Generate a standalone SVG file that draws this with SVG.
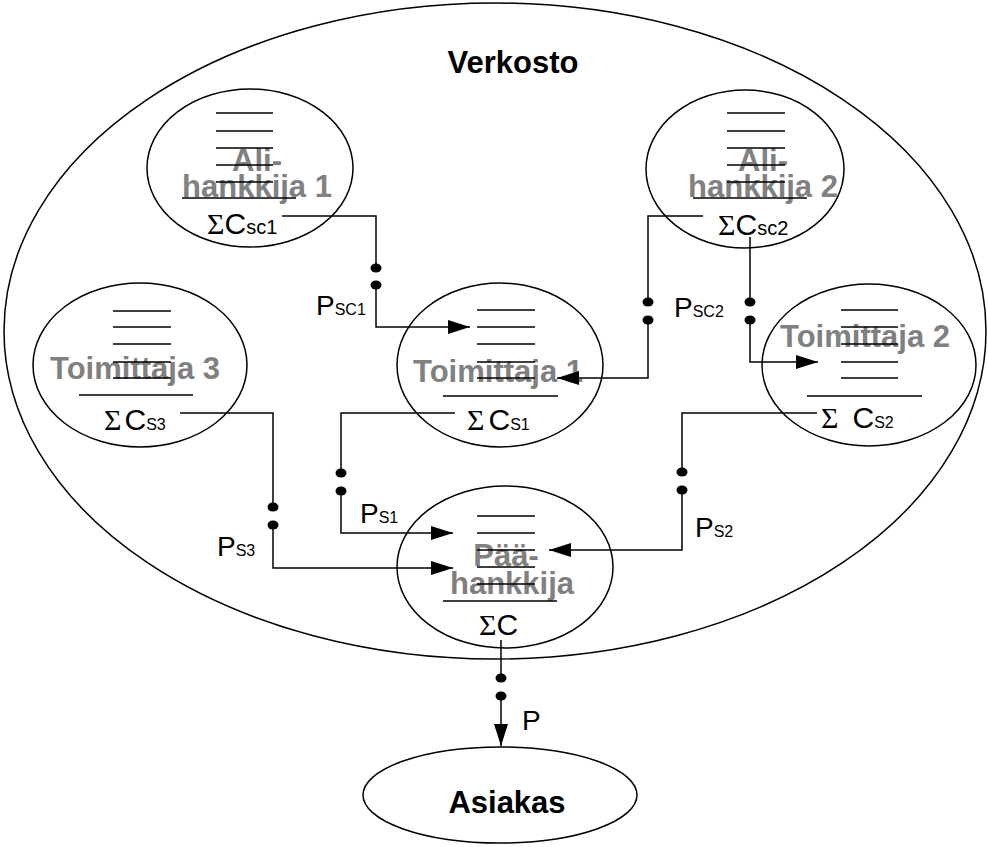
<svg xmlns="http://www.w3.org/2000/svg" width="988" height="847" viewBox="0 0 988 847">
<style>
.el{fill:none;stroke:#000;stroke-width:1.5}
.ln{stroke:#000;stroke-width:1.5;fill:none}
.gt{font-family:"Liberation Sans",Arial,sans-serif;font-weight:bold;font-size:31px;fill:#808080;text-anchor:middle}
.bt{font-family:"Liberation Sans",Arial,sans-serif;font-weight:bold;font-size:31px;fill:#000;text-anchor:middle}
.sg{font-family:"Liberation Serif","Times New Roman",serif;font-size:30px;fill:#000}
.c{font-family:"Liberation Sans",Arial,sans-serif;font-size:30px;fill:#000}
.sb{font-family:"Liberation Sans",Arial,sans-serif;font-size:16px;fill:#000}
.sb2{font-family:"Liberation Sans",Arial,sans-serif;font-size:20px;fill:#000}
.p{font-family:"Liberation Sans",Arial,sans-serif;font-size:28px;fill:#000}
.dot{fill:#000}
</style>
<defs>
<marker id="ah" markerUnits="userSpaceOnUse" markerWidth="22" markerHeight="14" refX="22" refY="7" orient="auto">
<path d="M0,0 L22,7 L0,14 z" fill="#000"/>
</marker>
</defs>
<rect width="988" height="847" fill="#fff"/>

<g id="verkosto">
<ellipse class="el" cx="495" cy="331" rx="491" ry="328"/>
<text class="bt" x="513" y="73">Verkosto</text>
</g>

<g id="alihankkija1">
<ellipse class="el" cx="250" cy="168" rx="103" ry="79"/>
<text class="gt" x="257" y="171">Ali-</text>
<text class="gt" x="257" y="197">hankkija 1</text>
<path class="ln" d="M216,113H273M216,131H273M216,148H273M216,165H273M216,182H273M182,198H296"/>
<text x="207" y="234"><tspan class="sg">Σ</tspan><tspan class="c">C</tspan><tspan class="sb2">sc1</tspan></text>
</g>

<g id="alihankkija2">
<ellipse class="el" cx="745" cy="169" rx="99" ry="79"/>
<text class="gt" x="763" y="171">Ali-</text>
<text class="gt" x="763" y="197">hankkija 2</text>
<path class="ln" d="M727,113H785M727,131H785M727,148H785M727,165H785M727,182H785M693,198H807"/>
<text x="718" y="235"><tspan class="sg">Σ</tspan><tspan class="c">C</tspan><tspan class="sb2">sc2</tspan></text>
</g>

<g id="toimittaja3">
<ellipse class="el" cx="140" cy="365" rx="107" ry="82"/>
<text class="gt" x="135" y="379">Toimittaja 3</text>
<path class="ln" d="M113,311H171M113,327H171M113,344H171M113,362H171M113,378H171M79,395H193"/>
<text x="104" y="430"><tspan class="sg">Σ</tspan><tspan class="c" dx="3">C</tspan><tspan class="sb">S3</tspan></text>
</g>

<g id="toimittaja1">
<ellipse class="el" cx="500" cy="365" rx="103" ry="82"/>
<text class="gt" x="498" y="382">Toimittaja 1</text>
<path class="ln" d="M477,310H535M477,327H535M477,344H535M477,362H535M477,378H535M443,396H558"/>
<text x="467" y="430"><tspan class="sg">Σ</tspan><tspan class="c" dx="4">C</tspan><tspan class="sb">S1</tspan></text>
</g>

<g id="toimittaja2">
<ellipse class="el" cx="869" cy="365" rx="107" ry="81"/>
<text class="gt" x="865" y="347">Toimittaja 2</text>
<path class="ln" d="M841,310H898M841,327H898M841,344H898M841,362H898M841,378H898M807,396H922"/>
<text x="821" y="428"><tspan class="sg">Σ</tspan><tspan class="c" dx="14">C</tspan><tspan class="sb">S2</tspan></text>
</g>

<g id="paahankkija">
<ellipse class="el" cx="505" cy="567" rx="108" ry="81"/>
<text class="gt" x="506" y="566">Pää-</text>
<text class="gt" x="512" y="594">hankkija</text>
<path class="ln" d="M477,516H535M477,533H535M477,550H535M477,567H535M477,584H535M443,601H557"/>
<text x="479" y="635"><tspan class="sg">Σ</tspan><tspan class="c">C</tspan></text>
</g>

<g id="asiakas">
<ellipse class="el" cx="500" cy="795" rx="137" ry="48"/>
<text class="bt" x="507" y="813">Asiakas</text>
</g>

<g id="connectors">
<path class="ln" d="M282,216H376V268"/>
<path class="ln" d="M376,285V327H470" marker-end="url(#ah)"/>
<path class="ln" d="M703,216H648V302"/>
<path class="ln" d="M648,320V378H557" marker-end="url(#ah)"/>
<path class="ln" d="M750,237V302"/>
<path class="ln" d="M750,320V362H818" marker-end="url(#ah)"/>
<path class="ln" d="M455,413H341V473"/>
<path class="ln" d="M341,491V533H453" marker-end="url(#ah)"/>
<path class="ln" d="M180,413H273V507"/>
<path class="ln" d="M273,525V568H453" marker-end="url(#ah)"/>
<path class="ln" d="M817,413H682V472"/>
<path class="ln" d="M682,490V550H549" marker-end="url(#ah)"/>
<path class="ln" d="M501,640V678"/>
<path class="ln" d="M501,696V746" marker-end="url(#ah)"/>
<ellipse class="dot" cx="376" cy="268" rx="5.5" ry="4.5"/>
<ellipse class="dot" cx="376" cy="285" rx="5.5" ry="4.5"/>
<ellipse class="dot" cx="648" cy="302" rx="5.5" ry="4.5"/>
<ellipse class="dot" cx="648" cy="320" rx="5.5" ry="4.5"/>
<ellipse class="dot" cx="750" cy="302" rx="5.5" ry="4.5"/>
<ellipse class="dot" cx="750" cy="320" rx="5.5" ry="4.5"/>
<ellipse class="dot" cx="341" cy="473" rx="5.5" ry="4.5"/>
<ellipse class="dot" cx="341" cy="491" rx="5.5" ry="4.5"/>
<ellipse class="dot" cx="273" cy="507" rx="5.5" ry="4.5"/>
<ellipse class="dot" cx="273" cy="525" rx="5.5" ry="4.5"/>
<ellipse class="dot" cx="682" cy="472" rx="5.5" ry="4.5"/>
<ellipse class="dot" cx="682" cy="490" rx="5.5" ry="4.5"/>
<ellipse class="dot" cx="501" cy="678" rx="5.5" ry="4.5"/>
<ellipse class="dot" cx="501" cy="696" rx="5.5" ry="4.5"/>
<text x="316" y="315"><tspan class="p">P</tspan><tspan class="sb">SC1</tspan></text>
<text x="674" y="317"><tspan class="p">P</tspan><tspan class="sb">SC2</tspan></text>
<text x="360" y="523"><tspan class="p">P</tspan><tspan class="sb">S1</tspan></text>
<text x="695" y="537"><tspan class="p">P</tspan><tspan class="sb">S2</tspan></text>
<text x="217" y="556"><tspan class="p">P</tspan><tspan class="sb">S3</tspan></text>
<text class="p" x="522" y="730">P</text>
</g>
</svg>
